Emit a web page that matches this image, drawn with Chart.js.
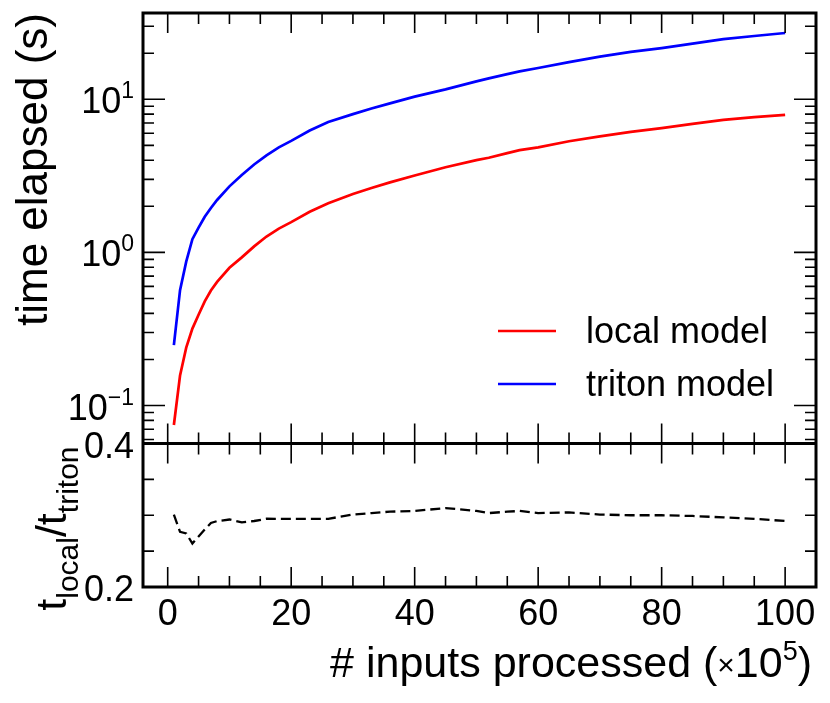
<!DOCTYPE html>
<html>
<head>
<meta charset="utf-8">
<script src="https://cdn.jsdelivr.net/npm/chart.js@4/dist/chart.umd.min.js"></script>
<style>
  html, body { margin: 0; padding: 0; background: #fff; }
  #chart { display: block; }
</style>
</head>
<body>
<canvas id="chart" width="830" height="703"></canvas>
<script>
// values (x in units of 1e5 inputs)
const inputs = [1, 2, 3, 4, 5, 6, 7, 8, 10, 12, 14, 16, 18, 20, 23, 26, 30, 33, 36, 40, 45, 50, 52, 55, 57, 60, 65, 70, 75, 80, 85, 90, 95, 100];
const tritonTime = [0.248, 0.567, 0.87, 1.22, 1.45, 1.71, 1.95, 2.2, 2.7, 3.2, 3.75, 4.3, 4.85, 5.35, 6.25, 7.1, 8.0, 8.7, 9.4, 10.4, 11.6, 13.1, 13.7, 14.6, 15.2, 16.0, 17.5, 19.0, 20.4, 21.6, 23.1, 24.7, 25.9, 27.1];
const localTime = [0.0746, 0.157, 0.239, 0.318, 0.392, 0.479, 0.564, 0.642, 0.794, 0.928, 1.095, 1.269, 1.431, 1.578, 1.844, 2.095, 2.408, 2.636, 2.867, 3.182, 3.596, 4.009, 4.151, 4.453, 4.651, 4.848, 5.320, 5.719, 6.120, 6.480, 6.907, 7.336, 7.641, 7.913];

const xTicks = [0, 20, 40, 60, 80, 100];
const timeTicks = [0.1, 1, 10];
const timeTickLabels = [['10', '\u22121'], ['10', '0'], ['10', '1']];
const ratioTicks = [0.2, 0.4];
const ratioTickLabels = ['0.2', '0.4'];
const seriesNames = ['local model', 'triton model'];

const FONT = '"Liberation Sans", Arial, Helvetica, sans-serif';

function pts(ys) {
  return inputs.map((x, i) => ({x: x, y: ys[i]}));
}
const ratio = inputs.map((x, i) => localTime[i] / tritonTime[i]);

// draws a run of text pieces [text, size, dy], right aligned at xRight
function drawPieces(ctx, pieces, xRight, y) {
  let total = 0;
  pieces.forEach(p => { ctx.font = p[1] + 'px ' + FONT; total += ctx.measureText(p[0]).width; });
  let x = xRight - total;
  ctx.textAlign = 'left';
  ctx.textBaseline = 'alphabetic';
  pieces.forEach(p => {
    ctx.font = p[1] + 'px ' + FONT;
    ctx.fillText(p[0], x, y + p[2]);
    x += ctx.measureText(p[0]).width;
  });
}

const frame = {
  id: 'frame',
  afterDraw(chart) {
    const ctx = chart.ctx;
    const xs = chart.scales.x, yt = chart.scales.y, yr = chart.scales.y2;
    const L = chart.chartArea.left, R = chart.chartArea.right;
    const top = yt.top, mid = yt.bottom, bot = yr.bottom;
    ctx.save();
    ctx.strokeStyle = '#000';
    ctx.fillStyle = '#000';

    // ticks
    ctx.lineWidth = 1.6;
    ctx.beginPath();
    for (let v = 0; v <= 100; v += 5) {
      const px = xs.getPixelForValue(v);
      const len = (v % 20 === 0) ? 20 : 11;
      ctx.moveTo(px, top); ctx.lineTo(px, top + len);
      ctx.moveTo(px, mid - len); ctx.lineTo(px, mid + len);
      ctx.moveTo(px, bot); ctx.lineTo(px, bot - len);
    }
    for (let e = -2; e <= 1; e++) {
      for (let m = 1; m <= 9; m++) {
        const v = m * Math.pow(10, e);
        if (v < yt.min || v > yt.max) continue;
        const py = yt.getPixelForValue(v);
        const len = m === 1 ? 22 : 11;
        ctx.moveTo(L, py); ctx.lineTo(L + len, py);
        ctx.moveTo(R, py); ctx.lineTo(R - len, py);
      }
    }
    for (let v = 0.25; v < 0.39; v += 0.05) {
      const py = yr.getPixelForValue(v);
      ctx.moveTo(L, py); ctx.lineTo(L + 11, py);
      ctx.moveTo(R, py); ctx.lineTo(R - 11, py);
    }
    ctx.stroke();

    // frame
    ctx.lineWidth = 3;
    ctx.strokeRect(L, top, R - L, bot - top);
    ctx.beginPath();
    ctx.moveTo(L, mid); ctx.lineTo(R, mid);
    ctx.stroke();

    // tick labels
    ctx.font = '36px ' + FONT;
    ctx.textAlign = 'center';
    ctx.textBaseline = 'alphabetic';
    xTicks.forEach(v => ctx.fillText(String(v), xs.getPixelForValue(v), bot + 38));
    timeTicks.forEach((v, i) => {
      const py = yt.getPixelForValue(v);
      const lab = timeTickLabels[i];
      drawPieces(ctx, [[lab[0], 36, 0], [lab[1], 23, -15]], L - 9, py + 14);
    });
    ctx.textAlign = 'right';
    ctx.font = '36px ' + FONT;
    ratioTicks.forEach((v, i) => {
      ctx.fillText(ratioTickLabels[i], L - 9, yr.getPixelForValue(v) + 14);
    });

    // axis titles
    drawPieces(ctx, [['# inputs processed (', 43, 0], ['\u00d7', 30, -2], ['10', 43, 0], ['5', 27, -17], [')', 43, 0]], R - 4, bot + 90);

    ctx.save();
    ctx.translate(L - 96, top);
    ctx.rotate(-Math.PI / 2);
    drawPieces(ctx, [['time elapsed (s)', 44, 0]], 0, 0);
    ctx.restore();

    ctx.save();
    ctx.translate(L - 77, mid + 3);
    ctx.rotate(-Math.PI / 2);
    drawPieces(ctx, [['t', 43, 0], ['local', 30, 12], ['/', 43, 0], ['t', 43, 0], ['triton', 30, 12]], 0, 0);
    ctx.restore();

    // legend
    const colors = ['#ff0000', '#0000ff'];
    const legendY = [331, 384];
    seriesNames.forEach((name, i) => {
      const ly = yt.top + (legendY[i] - 13);
      ctx.strokeStyle = colors[i];
      ctx.lineWidth = 2.5;
      ctx.beginPath();
      ctx.moveTo(R - 318, ly); ctx.lineTo(R - 260, ly);
      ctx.stroke();
      ctx.fillStyle = '#000';
      ctx.font = '36px ' + FONT;
      ctx.textAlign = 'left';
      ctx.textBaseline = 'alphabetic';
      ctx.fillText(name, R - 230, ly + 12);
    });
    ctx.restore();
  }
};

const hidden = {
  ticks: {display: false},
  grid: {display: false},
  border: {display: false}
};

new Chart(document.getElementById('chart'), {
  type: 'line',
  data: {
    datasets: [
      {label: seriesNames[0], data: pts(localTime), yAxisID: 'y', borderColor: '#ff0000', borderWidth: 2.7, pointRadius: 0, tension: 0, fill: false},
      {label: seriesNames[1], data: pts(tritonTime), yAxisID: 'y', borderColor: '#0000ff', borderWidth: 2.7, pointRadius: 0, tension: 0, fill: false},
      {label: 'ratio', data: pts(ratio), yAxisID: 'y2', borderColor: '#000', borderWidth: 2.3, borderDash: [10, 5], pointRadius: 0, tension: 0, fill: false}
    ]
  },
  options: {
    responsive: false,
    animation: false,
    devicePixelRatio: 1,
    layout: {padding: {left: 135, right: 14, top: 13, bottom: 108}},
    plugins: {legend: {display: false}, tooltip: {enabled: false}},
    scales: {
      x: Object.assign({type: 'linear', min: -4, max: 105}, hidden),
      y: Object.assign({type: 'logarithmic', min: 0.0565, max: 36.6, position: 'left', stack: 'panels', stackWeight: 3, weight: 2}, hidden),
      y2: Object.assign({type: 'linear', min: 0.2, max: 0.4, position: 'left', stack: 'panels', stackWeight: 1, weight: 1}, hidden)
    }
  },
  plugins: [frame]
});
</script>
</body>
</html>
